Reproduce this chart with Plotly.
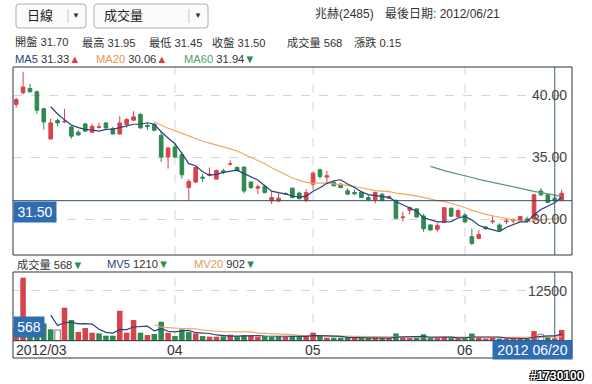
import plotly.graph_objects as go
import pandas as pd

W, H = 592, 384

# ---------------- data (2012/03/01 .. 2012/06/21, 80 trading days) ----------------
open_ = [39.26, 40.20, 40.55, 40.28, 38.91, 36.48, 37.96, 37.85, 37.45, 37.02,
         37.69, 37.02, 37.40, 37.77, 37.31, 36.88, 37.64, 37.99, 38.45, 37.56,
         37.64, 36.77, 35.02, 35.83, 35.21, 32.56, 33.00, 33.40, 33.54, 33.24,
         33.91, 34.45, 34.18, 34.21, 33.00, 32.51, 32.65, 31.48, 31.48, 32.08,
         32.51, 32.11, 31.51, 32.83, 33.99, 33.40, 33.00, 32.83, 32.30, 32.16,
         32.19, 31.75, 31.56, 32.02, 31.70, 31.51, 30.13, 30.73, 30.84, 30.27,
         29.54, 29.19, 29.76, 30.89, 30.22, 30.35, 28.60, 28.46, 29.38, 29.80,
         29.54, 29.81, 29.86, 29.86, 30.03, 30.03, 32.29, 31.97, 31.70, 31.55]
high = [39.80, 41.90, 40.93, 40.39, 38.99, 38.12, 38.12, 38.90, 37.56, 37.18,
        37.77, 37.69, 37.77, 37.83, 37.45, 38.31, 38.18, 38.72, 38.58, 37.77,
        37.77, 37.10, 35.80, 36.07, 35.43, 33.24, 34.26, 33.64, 34.18, 34.00,
        34.08, 34.75, 34.26, 34.26, 33.05, 32.78, 32.78, 32.24, 32.16, 32.16,
        32.56, 32.24, 32.43, 33.86, 34.08, 33.91, 33.05, 32.91, 32.51, 32.38,
        32.29, 31.97, 32.24, 32.10, 31.91, 31.62, 30.62, 31.03, 30.89, 30.43,
        29.60, 29.68, 30.94, 30.94, 30.81, 30.49, 29.27, 29.14, 29.43, 30.27,
        29.68, 30.13, 30.08, 30.27, 30.22, 32.02, 32.51, 32.02, 31.95, 32.40]
low = [38.99, 40.07, 40.20, 38.50, 37.23, 36.42, 37.50, 37.75, 36.50, 36.75,
       37.10, 36.96, 37.31, 37.31, 36.83, 36.83, 37.37, 37.91, 37.31, 37.18,
       37.10, 34.62, 34.08, 34.94, 33.27, 31.51, 32.92, 33.00, 33.45, 33.18,
       33.64, 34.32, 33.91, 32.10, 32.43, 32.02, 32.10, 31.24, 31.38, 31.99,
       31.70, 31.62, 31.38, 32.38, 33.27, 33.00, 32.65, 32.52, 32.02, 31.97,
       31.75, 31.51, 31.29, 31.51, 31.64, 30.00, 29.81, 30.40, 30.13, 29.00,
       29.08, 29.00, 29.76, 30.22, 30.13, 29.68, 27.92, 28.46, 29.20, 29.62,
       29.08, 29.60, 29.68, 29.81, 29.81, 29.68, 31.89, 31.30, 31.45, 31.45]
close = [39.66, 40.66, 40.28, 38.80, 37.85, 37.77, 37.77, 37.90, 36.70, 36.80,
         37.10, 37.50, 37.45, 37.37, 36.88, 37.77, 38.04, 38.26, 37.37, 37.48,
         37.18, 35.02, 35.75, 35.02, 33.59, 33.05, 34.18, 33.32, 33.64, 33.94,
         33.81, 34.48, 33.91, 32.28, 32.56, 32.62, 32.15, 31.75, 31.70, 32.05,
         31.75, 31.66, 32.16, 33.72, 33.45, 33.51, 32.70, 32.55, 32.02, 32.05,
         31.75, 31.56, 32.16, 31.52, 31.83, 30.08, 30.18, 30.94, 30.18, 29.23,
         29.14, 29.50, 30.94, 30.25, 30.70, 29.79, 28.06, 28.77, 29.23, 29.85,
         29.12, 29.85, 29.93, 30.22, 29.86, 31.97, 31.97, 31.35, 31.50, 32.10]
volume = [3500, 15750, 4800, 4300, 4350, 2850, 2667, 8250, 5167, 2167,
          3167, 2000, 1833, 1250, 1250, 7500, 2000, 5167, 2000, 1417,
          1667, 4750, 2000, 1167, 2833, 2167, 1833, 1167, 1000, 1000,
          1100, 1500, 1100, 1400, 1300, 1000, 1100, 1000, 1100, 1000,
          1200, 1100, 1000, 2000, 1250, 750, 750, 750, 750, 700,
          650, 650, 700, 650, 650, 1833, 700, 650, 700, 1600,
          650, 650, 1000, 650, 600, 600, 1800, 800, 550, 900,
          550, 500, 550, 600, 530, 2400, 1600, 950, 568, 2667]
month_labels = ["2012/03", "04", "05", "06"]
month_start = [0, 23, 43, 65]
sel = 78  # 2012/06/20 (cursor)
sel_label = "2012 06/20"

# ---------------- derived ----------------
n = len(close)
idx = list(range(n))
cs = pd.Series(close)
vs = pd.Series(volume)


def ma(s, k):
    m = s.rolling(k).mean()
    m[:k] = None
    return m.tolist()


ma5, ma20, ma60 = ma(cs, 5), ma(cs, 20), ma(cs, 60)
mv5, mv20 = ma(vs, 5), ma(vs, 20)

RED, GREEN = "#d8434b", "#2f8a52"
C_MA5, C_MA20, C_MA60 = "#27427a", "#f0a868", "#529e70"
BLUE = "#2f6db2"
FONT = "Liberation Sans, Noto Sans CJK TC, sans-serif"
TS = 11.2

vcol, vline, vlw = [], [], []
for i in idx:
    prev = close[i - 1] if i > 0 else open_[0]
    if close[i] > prev:
        vcol.append(RED); vline.append(RED); vlw.append(0)
    elif close[i] < prev:
        vcol.append(GREEN); vline.append(GREEN); vlw.append(0)
    else:
        vcol.append("white"); vline.append("#7a7a7a"); vlw.append(1)

fig = go.Figure()
fig.add_trace(go.Candlestick(
    x=idx, open=open_, high=high, low=low, close=close,
    increasing=dict(line=dict(color=RED, width=1), fillcolor=RED),
    decreasing=dict(line=dict(color=GREEN, width=1), fillcolor=GREEN),
    whiskerwidth=0, xaxis="x", yaxis="y", hoverinfo="skip"))
fig.add_trace(go.Scatter(x=idx, y=ma60, mode="lines", line=dict(color=C_MA60, width=1.2), xaxis="x", yaxis="y"))
fig.add_trace(go.Scatter(x=idx, y=ma20, mode="lines", line=dict(color=C_MA20, width=1.2), xaxis="x", yaxis="y"))
fig.add_trace(go.Scatter(x=idx, y=ma5, mode="lines", line=dict(color=C_MA5, width=1.2), xaxis="x", yaxis="y"))

fig.add_trace(go.Bar(x=idx, y=volume, width=0.8, marker=dict(color=vcol, line=dict(color=vline, width=vlw)),
                     xaxis="x2", yaxis="y2"))
fig.add_trace(go.Scatter(x=idx, y=mv20, mode="lines", line=dict(color=C_MA20, width=1.2), xaxis="x2", yaxis="y2"))
fig.add_trace(go.Scatter(x=idx, y=mv5, mode="lines", line=dict(color=C_MA5, width=1.2), xaxis="x2", yaxis="y2"))

XR = [-0.46, 80.5]
PY = [27.12, 42.28]
VY = [-4325, 17175]


def px(x):
    return x / W


def py(y):
    return 1 - y / H


fig.update_layout(
    width=W, height=H, margin=dict(l=0, r=0, t=0, b=0),
    paper_bgcolor="white", plot_bgcolor="white", showlegend=False,
    hovermode=False, boxgap=0.25, bargap=0,
    font=dict(family=FONT, size=12, color="#333"),
    xaxis=dict(domain=[px(13), px(572)], range=XR, showticklabels=False, showgrid=False,
               zeroline=False, rangeslider=dict(visible=False), anchor="y", fixedrange=True),
    yaxis=dict(domain=[py(255), py(67)], range=PY, tickvals=[30, 35, 40], showticklabels=False,
               showgrid=True, gridcolor="#d4d4d4", griddash="dash", zeroline=False, anchor="x"),
    xaxis2=dict(domain=[px(13), px(572)], range=XR, showticklabels=False, showgrid=False,
                zeroline=False, anchor="y2"),
    yaxis2=dict(domain=[py(358), py(272)], range=VY, tickvals=[12500], showticklabels=False,
                showgrid=True, gridcolor="#d4d4d4", griddash="dash", zeroline=False, anchor="x2"),
)

shapes = []
# vertical month gridlines
for m in month_start[1:]:
    shapes.append(dict(type="line", xref="x", yref="y domain", x0=m, x1=m, y0=0, y1=1,
                       line=dict(color="#d4d4d4", width=1, dash="dash"), layer="below"))
    shapes.append(dict(type="line", xref="x2", yref="y2", x0=m, x1=m, y0=0, y1=VY[1],
                       line=dict(color="#d4d4d4", width=1, dash="dash"), layer="below"))
# volume baseline
shapes.append(dict(type="line", xref="paper", yref="y2", x0=px(13), x1=px(572), y0=0, y1=0,
                   line=dict(color="#2b3440", width=1)))
# cursor lines
shapes.append(dict(type="line", xref="paper", yref="y", x0=px(13), x1=px(572), y0=close[sel], y1=close[sel],
                   line=dict(color="#2f4f63", width=1)))
shapes.append(dict(type="line", xref="x", yref="y domain", x0=sel, x1=sel, y0=0, y1=1,
                   line=dict(color="#3d5f80", width=1)))
shapes.append(dict(type="line", xref="x2", yref="y2", x0=sel, x1=sel, y0=0, y1=VY[1],
                   line=dict(color="#3d5f80", width=1)))
# frames
for (t, b) in [(67, 255), (272, 358)]:
    shapes.append(dict(type="rect", xref="paper", yref="paper", x0=px(13), x1=px(572), y0=py(b), y1=py(t),
                       line=dict(color="#2b3440", width=1)))

# dropdown boxes
for (x0, x1, sep) in [(16, 86, 68), (94, 208, 189)]:
    r = 3
    X0, X1 = px(x0), px(x1)
    Y0, Y1 = py(28), py(4)
    rx, ry = r / W, r / H
    path = (f"M {X0+rx},{Y0} L {X1-rx},{Y0} Q {X1},{Y0} {X1},{Y0+ry} L {X1},{Y1-ry} Q {X1},{Y1} {X1-rx},{Y1} "
            f"L {X0+rx},{Y1} Q {X0},{Y1} {X0},{Y1-ry} L {X0},{Y0+ry} Q {X0},{Y0} {X0+rx},{Y0} Z")
    shapes.append(dict(type="path", xref="paper", yref="paper", path=path,
                       line=dict(color="#b0b0b0", width=1), fillcolor="#fbfbfb"))
    shapes.append(dict(type="line", xref="paper", yref="paper", x0=px(sep), x1=px(sep), y0=py(9), y1=py(23),
                       line=dict(color="#c8c8c8", width=1)))

fig.update_layout(shapes=shapes)

ann = []


def txt(x, y, s, size=12, color="#333", anchor="left"):
    ann.append(dict(x=px(x), y=py(y), xref="paper", yref="paper", text=s, showarrow=False,
                    xanchor=anchor, yanchor="middle", font=dict(family=FONT, size=size, color=color)))


# dropdown texts
txt(25, 16, "日線", 13, "#222")
txt(76, 16, "▼", 8, "#333", "center")
txt(102, 16, "成交量", 13, "#222")
txt(198, 16, "▼", 8, "#333", "center")

# top right
txt(313, 14, "兆赫(2485)", 12, "#333")
txt(383, 14, "最後日期: 2012/06/21", 12, "#333")

# OHLC row
info = [(13, "開盤", f"{open_[sel]:.2f}"), (80, "最高", f"{high[sel]:.2f}"), (147, "最低", f"{low[sel]:.2f}"),
        (210, "收盤", f"{close[sel]:.2f}"), (285, "成交量", f"{volume[sel]}"),
        (352, "漲跌", f"{close[sel]-close[sel-1]:.2f}")]
for x, k, v in info:
    txt(x, 42, f"{k} {v}", TS, "#333")

UP = f"<span style='color:{RED}'>▲</span>"
DN = f"<span style='color:{GREEN}'>▼</span>"


def arrow(a, b):
    return UP if a > b else DN


txt(13, 59, f"<span style='color:{C_MA5}'>MA5</span> {ma5[sel]:.2f}{arrow(ma5[sel], ma5[sel-1])}", TS, "#333")
txt(94, 59, f"<span style='color:#e39a55'>MA20</span> {ma20[sel]:.2f}{arrow(ma20[sel], ma20[sel-1])}", TS, "#333")
txt(182, 59, f"<span style='color:{C_MA60}'>MA60</span> {ma60[sel]:.2f}{arrow(ma60[sel], ma60[sel-1])}", TS, "#333")

txt(15, 264, f"成交量 {volume[sel]}{arrow(volume[sel], volume[sel-1])}", TS, "#333")
txt(105, 264, f"<span style='color:{C_MA5}'>MV5</span> {mv5[sel]:.0f}{arrow(mv5[sel], mv5[sel-1])}", TS, "#333")
txt(192, 264, f"<span style='color:#e39a55'>MV20</span> {mv20[sel]:.0f}{arrow(mv20[sel], mv20[sel-1])}", TS, "#333")

# price axis labels (inside, right)
for v in [40, 35, 30]:
    ann.append(dict(x=px(569), y=v, xref="paper", yref="y", text=f"{v:.2f}", showarrow=False,
                    xanchor="right", yanchor="middle", font=dict(family=FONT, size=14, color="#444")))
ann.append(dict(x=px(569), y=12500, xref="paper", yref="y2", text="12500", showarrow=False,
                xanchor="right", yanchor="middle", font=dict(family=FONT, size=14, color="#444")))

# month labels
for lab, m in zip(month_labels, month_start):
    if m == 0:
        ann.append(dict(x=px(14), y=py(350), xref="paper", yref="paper", text=lab, showarrow=False,
                        xanchor="left", yanchor="middle", font=dict(family=FONT, size=14, color="#333")))
    else:
        ann.append(dict(x=m, y=py(350), xref="x2", yref="paper", text=lab, showarrow=False,
                        xanchor="center", yanchor="middle", font=dict(family=FONT, size=14, color="#333")))

# cursor value boxes
ann.append(dict(x=px(13), y=close[sel], xref="paper", yref="y", text=f"{close[sel]:.2f}", showarrow=False,
                xanchor="left", yanchor="top", bgcolor=BLUE, width=40, height=18, borderpad=1,
                font=dict(family=FONT, size=14, color="white")))
ann.append(dict(x=px(13), y=volume[sel], xref="paper", yref="y2", text=f"{volume[sel]}", showarrow=False,
                xanchor="left", yanchor="bottom", bgcolor=BLUE, width=28, height=18, borderpad=1,
                font=dict(family=FONT, size=14, color="white")))
ann.append(dict(x=px(572.5), y=py(349.5), xref="paper", yref="paper", text=sel_label, showarrow=False,
                xanchor="right", yanchor="middle", bgcolor=BLUE, width=77, height=16, borderpad=1,
                font=dict(family=FONT, size=14, color="white")))

# watermark
ann.append(dict(x=px(586), y=py(376), xref="paper", yref="paper", text="<b>#1730100</b>", showarrow=False,
                xanchor="right", yanchor="middle",
                font=dict(family=FONT, size=12, color="white",
                          shadow="-1px -1px 0 #000, 1px -1px 0 #000, -1px 1px 0 #000, 1px 1px 0 #000")))

fig.update_layout(annotations=ann)
fig.write_html("out.html", config={"displayModeBar": False, "staticPlot": True},
               post_script="document.body.style.margin='0';document.body.style.overflow='hidden';")
